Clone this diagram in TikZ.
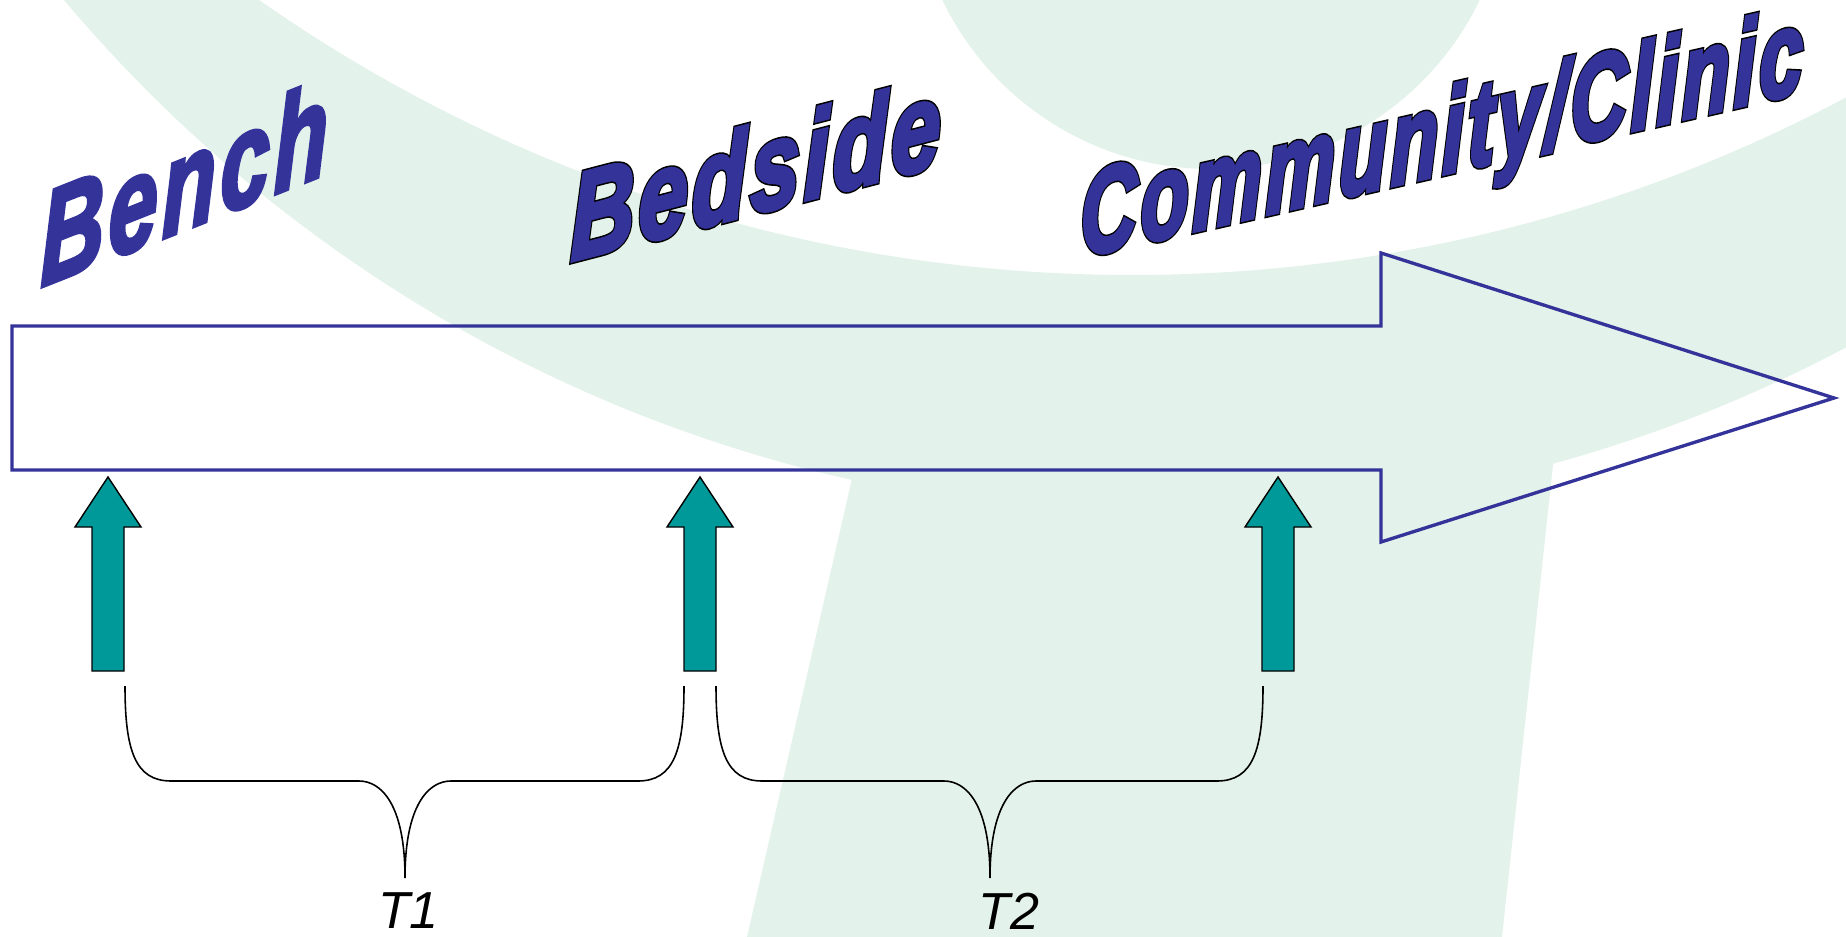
\documentclass[tikz,border=0pt]{standalone}
\usepackage{fontspec}
\setmainfont{Liberation Sans}
\newfontface\artface[FakeBold=3.6,LetterSpace=5]{Liberation Sans Bold Italic}
\newfontface\artrimface[FakeBold=6.2,LetterSpace=5]{Liberation Sans Bold Italic}
\usetikzlibrary{positioning}

\definecolor{wordblue}{RGB}{51,51,153}
\definecolor{arrowteal}{RGB}{0,153,153}
\definecolor{logogreen}{RGB}{227,242,234}

% thin black rim round the word art
\newcommand{\rimtext}[1]{%
  \leavevmode\rlap{\artrimface\color{black}#1}{\artface#1}}

\begin{document}
\begin{tikzpicture}[x=0.01cm,y=-0.01cm]
  \tikzstyle{wordart}=[text=wordblue,inner sep=0pt,anchor=base west,transform shape]
  \tikzstyle{uparrow}=[draw=black,fill=arrowteal,line width=0.4pt,line join=miter]
  \tikzstyle{brace}=[draw=black,line width=0.45pt]
  \tikzstyle{tlabel}=[font=\fontsize{14.8}{18}\selectfont\itshape,inner sep=0pt]
  \useasboundingbox (0,0) rectangle (1846,937);

  % pale logo behind everything
  \begin{scope}
    \clip (0,0) rectangle (1846,937);
    \fill[logogreen,even odd rule] (1170,-930) circle[radius=1445] (1132,-1247) circle[radius=1522];
    \fill[logogreen] (1211,-129) circle[radius=298];
    \fill[logogreen] (870,400) -- (1560,400) -- (1502,937) -- (747,937) -- cycle;
  \end{scope}

  % the long arrow
  \draw[wordblue,line width=0.95pt,line join=miter] (12,326) -- (1381,326) -- (1381,253) -- (1834,398)
    -- (1381,542) -- (1381,470) -- (12,470) -- cycle;

  \node[wordart,yslant=0.397,yscale=1.5,font=\fontsize{25.1}{30}\selectfont\artface] (bench) at (40,287) {Bench};
  \node[wordart,yslant=0.26,yscale=1.39,font=\fontsize{25.1}{30}\selectfont] (bedside) at (570,261) {\rimtext{Bedside}};
  \node[wordart,yslant=0.229,yscale=1.54,font=\fontsize{22.2}{28}\selectfont] (clinic) at (1080,257) {\rimtext{Community/Clinic}};

  % stage arrows
  \foreach \x in {108,700,1278} {
    \draw[uparrow] (\x,477) -- (\x+33,527) -- (\x+16,527) -- (\x+16,671) -- (\x-16,671)
      -- (\x-16,527) -- (\x-33,527) -- cycle;
  }

  % braces and their labels
  \foreach \l/\m/\r/\n/\dx in {125/405/684/1/1,716/990/1263/2/5.4} {
    \draw[brace] (\l,686) .. controls (\l,750) and (\l+10,781) .. (\l+46,781)
      -- (\m-46,781) .. controls (\m-24,781) and (\m,804) .. (\m,878)
      .. controls (\m,804) and (\m+24,781) .. (\m+46,781)
      -- (\r-46,781) .. controls (\r-10,781) and (\r,750) .. (\r,686);
    \coordinate (tip\n) at (\m,878);
    \node[tlabel,below=4pt of tip\n,xshift=\dx pt] (t\n) {T\n};
  }
\end{tikzpicture}
\end{document}
